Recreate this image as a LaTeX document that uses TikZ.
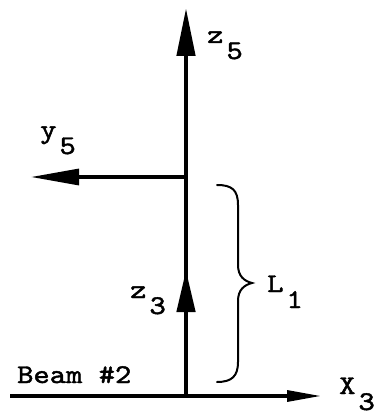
\documentclass[tikz,border=0pt]{standalone}
\usepackage{fontspec}
\usetikzlibrary{arrows.meta}
\newfontfamily\typew[FakeBold=1.6]{lmmono10-regular.otf}
\newcommand\lblsub[2]{\scalebox{1.15}[1]{#1}\kern3pt\raisebox{-16pt}{\scalebox{1.15}[1]{#2}}}
\begin{document}
\begin{tikzpicture}[x=1pt,y=1pt,
  lbl/.style={anchor=base west,inner sep=0pt,font=\typew\fontsize{27}{29}\selectfont},
  axis/.style={line width=4.5pt,-{Triangle[length=48pt,width=18pt]}},
  thinaxis/.style={line width=3.2pt},
  bracestyle/.style={line width=2pt,line cap=round}]
\useasboundingbox (0,0) rectangle (375,-417);
\coordinate (O) at (186,-396);
\coordinate (Z5) at (186,-8);
\coordinate (Z3) at (186,-270);
\coordinate (Yb) at (186,-177);
\coordinate (Y5) at (31,-177);
\coordinate (Xs) at (10,-396);
\coordinate (X3) at (321,-396);
% axes
\draw[thinaxis,-{Triangle[length=34pt,width=11pt]}] (Xs) -- (X3);
\draw[thinaxis,-{Triangle[length=48pt,width=16pt]}] (Yb) -- (Y5);
\draw[axis] (O) -- (Z5);
\draw[axis,-{Triangle[length=42pt,width=18pt]}] (O) -- (Z3);
% brace
\coordinate (Bt) at (217,-185);
\coordinate (Bb) at (217,-382);
\coordinate (Bm) at (252,-283);
\draw[bracestyle] (Bt) .. controls (232,-185) and (238,-190) .. (238,-205)
  -- (238,-265) .. controls (238,-276) and (244,-281) .. (Bm)
  .. controls (244,-285) and (238,-290) .. (238,-301)
  -- (238,-362) .. controls (238,-376) and (232,-382) .. (Bb);
% labels
\node[lbl] (z5l) at (207,-43) {\lblsub{z}{5}};
\node[lbl] (y5l) at (40,-138) {\lblsub{y}{5}};
\node[lbl] (z3l) at (130,-298) {\lblsub{z}{3}};
\node[lbl] (L1l) at (267,-292) {\lblsub{L}{1}};
\node[lbl] (X3l) at (339,-394) {\lblsub{X}{3}};
\node[lbl] (beam) at (17,-383) {\scalebox{1.15}[1]{Beam \#2}};
\end{tikzpicture}
\end{document}
